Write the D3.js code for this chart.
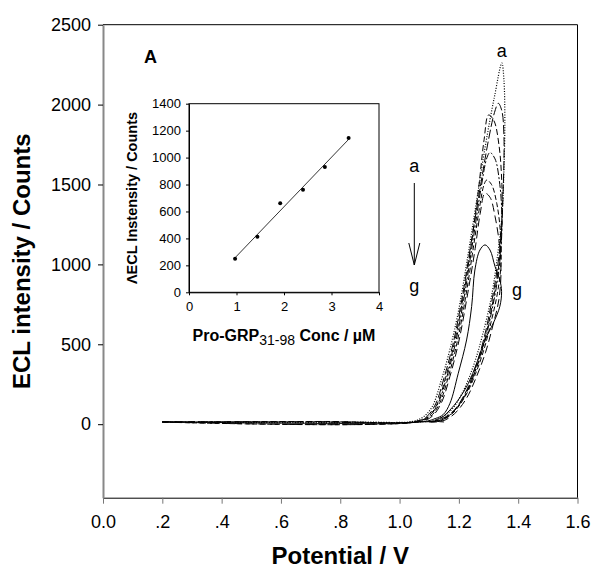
<!DOCTYPE html>
<html>
<head>
<meta charset="utf-8">
<script src="https://cdn.jsdelivr.net/npm/d3@7"></script>
<style>
  body { margin: 0; background: #fff; }
  text { font-family: "Liberation Sans", Arial, sans-serif; fill: #000; }
</style>
</head>
<body>
<div id="chart"></div>
<script>
// main panel: ECL intensity vs potential, curves a..g
var curve_names = ["a", "b", "c", "d", "e", "f", "g"];
var curve_a = [[0.2,14],[0.6,12],[0.9,13],[1.04,16],[1.08,45],[1.11,110],[1.14,270],[1.17,470],[1.20,720],[1.23,1050],[1.26,1400],[1.29,1750],[1.32,2050],[1.345,2260],
  [1.352,2150],[1.355,1900],[1.352,1600],[1.345,1300],[1.33,1050],[1.31,800],[1.28,560],[1.25,370],[1.21,190],[1.17,80],[1.12,25],[1.06,14],[0.2,13]];
var curve_b = [[0.2,15],[0.7,14],[1.05,16],[1.09,45],[1.12,120],[1.15,290],[1.18,500],[1.21,780],[1.24,1120],[1.27,1460],[1.30,1780],[1.32,1950],[1.333,2008],
  [1.345,1960],[1.352,1800],[1.35,1500],[1.343,1200],[1.33,980],[1.31,760],[1.285,540],[1.255,350],[1.22,190],[1.18,80],[1.13,25],[1.07,15]];
var curve_c = [[0.2,13],[0.75,17],[1.05,15],[1.095,45],[1.125,120],[1.155,290],[1.185,510],[1.215,800],[1.24,1100],[1.265,1450],[1.285,1780],[1.30,1935],
  [1.318,1900],[1.335,1750],[1.345,1500],[1.345,1250],[1.335,1000],[1.315,770],[1.29,550],[1.26,360],[1.225,195],[1.185,85],[1.14,28],[1.08,15]];
var curve_d = [[0.2,14],[0.78,15],[1.06,16],[1.10,50],[1.13,130],[1.16,300],[1.19,520],[1.22,820],[1.25,1180],[1.275,1480],[1.295,1670],[1.305,1700],
  [1.322,1660],[1.338,1500],[1.345,1300],[1.342,1100],[1.33,900],[1.31,700],[1.285,500],[1.255,330],[1.22,180],[1.18,75],[1.14,25],[1.09,15]];
var curve_e = [[0.2,13],[1.065,16],[1.105,50],[1.135,130],[1.165,300],[1.195,520],[1.225,820],[1.25,1120],[1.27,1360],[1.285,1500],[1.294,1528],
  [1.31,1500],[1.328,1380],[1.34,1200],[1.342,1000],[1.33,820],[1.31,650],[1.285,470],[1.255,310],[1.22,170],[1.18,70],[1.14,22],[1.10,14]];
var curve_f = [[0.2,14],[1.07,16],[1.11,50],[1.14,130],[1.17,300],[1.20,520],[1.23,820],[1.255,1100],[1.272,1320],[1.288,1445],
  [1.305,1420],[1.322,1300],[1.337,1120],[1.342,950],[1.335,780],[1.315,620],[1.29,450],[1.26,300],[1.225,160],[1.185,65],[1.145,20],[1.10,14]];
var curve_g = [[0.2,15],[1.08,16],[1.12,35],[1.147,60],[1.17,131],[1.198,319],[1.226,527],[1.243,736],[1.254,965],[1.271,1090],[1.288,1122],
  [1.305,1090],[1.322,986],[1.338,903],[1.344,830],[1.338,736],[1.316,632],[1.288,527],[1.26,382],[1.232,256],[1.198,152],[1.17,89],[1.147,48],[1.12,22],[1.15,14]];
var x_ticks = [0, 0.2, 0.4, 0.6, 0.8, 1.0, 1.2, 1.4, 1.6];
var x_tick_labels = ["0.0", ".2", ".4", ".6", ".8", "1.0", "1.2", "1.4", "1.6"];
var y_ticks = [0, 500, 1000, 1500, 2000, 2500];

// inset: delta ECL vs concentration
var conc = [0.97, 1.44, 1.92, 2.40, 2.86, 3.36];
var delta_ecl = [249, 413, 661, 762, 930, 1145];
var inset_x_ticks = [0, 1, 2, 3, 4];
var inset_y_ticks = [0, 200, 400, 600, 800, 1000, 1200, 1400];

var width = 592, height = 570;

var svg = d3.select("#chart").append("svg")
  .attr("width", width).attr("height", height);

var x = d3.scaleLinear().domain([0, 1.6]).range([103, 577.5]);
var y = d3.scaleLinear().domain([-460, 2500]).range([497.7, 24.7]);

var curves = [curve_a, curve_b, curve_c, curve_d, curve_e, curve_f, curve_g];
var dashes = ["1,1.6", "9,3", "6,3", "7,2,2,2", "5,2.5", "8,4", null];

var line = d3.line()
  .x(function(d){ return x(d[0]); })
  .y(function(d){ return y(d[1]); })
  .curve(d3.curveCatmullRom.alpha(0.5));

svg.append("g").selectAll("path")
  .data(curves)
  .enter().append("path")
  .attr("d", line)
  .attr("fill", "none")
  .attr("stroke", "#000")
  .attr("stroke-width", function(d, i){ return i == 0 ? 1.2 : 1; })
  .attr("stroke-dasharray", function(d, i){ return dashes[i]; });

// frame
svg.append("line").attr("x1", x(0)).attr("x2", x(1.6)).attr("y1", y(2500)).attr("y2", y(2500)).attr("stroke", "#000");
svg.append("line").attr("x1", x(1.6)).attr("x2", x(1.6)).attr("y1", y(2500)).attr("y2", y(-460)).attr("stroke", "#000");

// axes
var xAxis = svg.append("g")
  .attr("transform", "translate(0," + y(-460) + ")")
  .call(d3.axisBottom(x).tickValues(x_ticks).tickFormat(function(d, i){ return x_tick_labels[i]; }).tickSize(6).tickSizeOuter(0));
xAxis.select(".domain").attr("stroke", "#000");
xAxis.selectAll(".tick line").attr("stroke", "#777");
xAxis.selectAll(".tick text").attr("font-size", 18).attr("dy", null).attr("y", 30.5)
  .style("font-family", '"Liberation Sans", Arial, sans-serif');

var yAxis = svg.append("g")
  .attr("transform", "translate(" + x(0) + ",0)")
  .call(d3.axisLeft(y).tickValues(y_ticks).tickFormat(d3.format("d")).tickSize(5).tickSizeOuter(0));
yAxis.select(".domain").attr("stroke", "#888").attr("stroke-width", 2);
yAxis.selectAll(".tick line").attr("stroke", "#000");
yAxis.selectAll(".tick text").attr("font-size", 18).attr("x", -12)
  .style("font-family", '"Liberation Sans", Arial, sans-serif');

svg.append("text").attr("x", (x(0) + x(1.6)) / 2).attr("y", 564)
  .attr("text-anchor", "middle").attr("font-size", 24).attr("font-weight", "bold")
  .text("Potential / V");
svg.append("text")
  .attr("transform", "translate(30," + (y(-460) + y(2500)) / 2 + ") rotate(-90)")
  .attr("text-anchor", "middle").attr("font-size", 24).attr("font-weight", "bold")
  .text("ECL intensity / Counts");

svg.append("text").attr("x", 144).attr("y", 63).attr("font-size", 18).attr("font-weight", "bold").text("A");

// curve labels and arrow
svg.append("text").attr("x", x(1.345)).attr("y", 57).attr("text-anchor", "middle").attr("font-size", 18).text("a");
svg.append("text").attr("x", 517).attr("y", 296).attr("text-anchor", "middle").attr("font-size", 18).text("g");
var ax = 414.3;
svg.append("text").attr("x", ax).attr("y", 172).attr("text-anchor", "middle").attr("font-size", 18).text("a");
svg.append("text").attr("x", ax).attr("y", 292).attr("text-anchor", "middle").attr("font-size", 18).text("g");
svg.append("line").attr("x1", ax).attr("x2", ax).attr("y1", 183).attr("y2", 265).attr("stroke", "#000");
svg.append("path").attr("d", "M" + (ax - 5.5) + ",243L" + ax + ",265L" + (ax + 5.5) + ",243")
  .attr("fill", "none").attr("stroke", "#000");

// inset
var ix = d3.scaleLinear().domain([0, 4]).range([189, 379]);
var iy = d3.scaleLinear().domain([0, 1400]).range([292.3, 103.7]);
var inset = svg.append("g");
inset.append("rect").attr("x", ix(0)).attr("y", iy(1400)).attr("width", ix(4) - ix(0)).attr("height", iy(0) - iy(1400))
  .attr("fill", "#fff").attr("stroke", "#000");

var ixAxis = inset.append("g").attr("transform", "translate(0," + iy(0) + ")")
  .call(d3.axisBottom(ix).tickValues(inset_x_ticks).tickFormat(d3.format("d")).tickSize(3).tickSizeOuter(0));
ixAxis.selectAll(".tick text").attr("font-size", 13).attr("y", 9)
  .style("font-family", '"Liberation Sans", Arial, sans-serif');
var iyAxis = inset.append("g").attr("transform", "translate(" + ix(0) + ",0)")
  .call(d3.axisLeft(iy).tickValues(inset_y_ticks).tickFormat(d3.format("d")).tickSize(3).tickSizeOuter(0));
iyAxis.selectAll(".tick text").attr("font-size", 13).attr("x", -8)
  .style("font-family", '"Liberation Sans", Arial, sans-serif');

// least squares fit of the inset points
var mx = d3.mean(conc), my = d3.mean(delta_ecl);
var sxy = d3.sum(conc, function(c, i){ return (c - mx) * (delta_ecl[i] - my); });
var sxx = d3.sum(conc, function(c){ return (c - mx) * (c - mx); });
var slope = sxy / sxx, icept = my - slope * mx;
var fit_x = [d3.min(conc), d3.max(conc)];
inset.append("line")
  .attr("x1", ix(fit_x[0])).attr("y1", iy(icept + slope * fit_x[0]))
  .attr("x2", ix(fit_x[1])).attr("y2", iy(icept + slope * fit_x[1]))
  .attr("stroke", "#333").attr("stroke-width", 1);

inset.selectAll("circle").data(conc).enter().append("circle")
  .attr("cx", function(d){ return ix(d); })
  .attr("cy", function(d, i){ return iy(delta_ecl[i]); })
  .attr("r", 2).attr("fill", "#000");

var ixt = inset.append("text").attr("x", (ix(0) + ix(4)) / 2).attr("y", 341)
  .attr("text-anchor", "middle").attr("font-size", 16).attr("font-weight", "bold");
ixt.append("tspan").text("Pro-GRP");
ixt.append("tspan").attr("font-size", 14).attr("font-weight", "normal").attr("dy", 4).text("31-98");
ixt.append("tspan").attr("dy", -4).text(" Conc / \u00b5M");

inset.append("text")
  .attr("transform", "translate(137," + (iy(0) + iy(1400)) / 2 + ") rotate(-90)")
  .attr("text-anchor", "middle").attr("font-size", 14.5).attr("font-weight", "bold")
  .text("\u039bECL Instensity / Counts");
</script>
</body>
</html>
